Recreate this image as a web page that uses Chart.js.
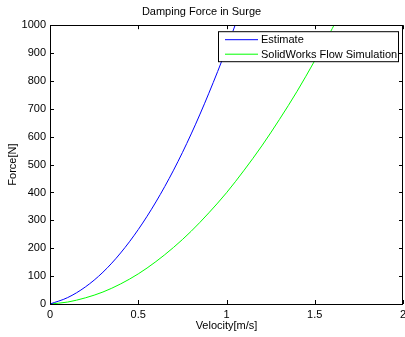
<!DOCTYPE html>
<html>
<head>
<meta charset="utf-8">
<script src="https://cdn.jsdelivr.net/npm/chart.js@4/dist/chart.umd.min.js"></script>
<style>
  html, body { margin: 0; padding: 0; background: #fff; }
  #wrap { width: 405px; height: 337px; }
</style>
</head>
<body>
<div id="wrap"><canvas id="damping-chart"></canvas></div>
<script>
// velocity samples [m/s]
var velocity = [0, 0.1, 0.2, 0.3, 0.4, 0.5, 0.6, 0.7, 0.8, 0.9, 1.0, 1.1, 1.2, 1.3, 1.4, 1.5, 1.6, 1.7];
// force [N]
var estimateForce = [0, 23, 61, 114, 183, 267, 366, 480, 610, 756, 916, 1092, 1283, 1490, 1711, 1948, 2201, 2468];
var flowSimForce = [0, 7, 22, 43, 72, 108, 152, 203, 261, 327, 399, 480, 567, 662, 763, 873, 989, 1113];
var xTicks = [0, 0.5, 1, 1.5, 2];
var yTicks = [0, 100, 200, 300, 400, 500, 600, 700, 800, 900, 1000];
var seriesNames = ["Estimate", "SolidWorks Flow Simulation"];
var seriesColors = ["#0000ff", "#00ff00"];

function toPoints(ys) {
  return velocity.map(function (v, i) { return { x: v, y: ys[i] }; });
}

var fontFam = "'Liberation Sans', Arial, sans-serif";

// MATLAB style box: frame + inward ticks on all four sides
var boxPlugin = {
  id: "matlabBox",
  afterDraw: function (chart) {
    var ctx = chart.ctx, a = chart.chartArea;
    var xs = chart.scales.x, ys = chart.scales.y;
    ctx.save();
    ctx.strokeStyle = "#000";
    ctx.lineWidth = 1;
    ctx.beginPath();
    xTicks.forEach(function (t) {
      var px = Math.round(xs.getPixelForValue(t)) + 0.5;
      ctx.moveTo(px, a.bottom); ctx.lineTo(px, a.bottom - 4);
      ctx.moveTo(px, a.top); ctx.lineTo(px, a.top + 4);
    });
    yTicks.forEach(function (t) {
      var py = Math.round(ys.getPixelForValue(t)) + 0.5;
      ctx.moveTo(a.left, py); ctx.lineTo(a.left + 4, py);
      ctx.moveTo(a.right, py); ctx.lineTo(a.right - 4, py);
    });
    ctx.stroke();
    ctx.strokeRect(Math.round(a.left) + 0.5, Math.round(a.top) + 0.5,
      Math.round(a.right - a.left) - 1, Math.round(a.bottom - a.top));

    // legend box inside the axes, top right
    var lx = a.right - 185, ly = a.top + 6, lw = 180, lh = 30;
    ctx.fillStyle = "#fff";
    ctx.fillRect(lx, ly, lw, lh);
    ctx.strokeRect(lx + 0.5, ly + 0.5, lw, lh);
    ctx.font = "11px " + fontFam;
    ctx.textBaseline = "middle";
    seriesNames.forEach(function (name, i) {
      var yy = ly + 8 + i * 14.5;
      ctx.strokeStyle = seriesColors[i];
      ctx.beginPath();
      ctx.moveTo(lx + 7, yy + 0.5); ctx.lineTo(lx + 40, yy + 0.5);
      ctx.stroke();
      ctx.fillStyle = "#000";
      ctx.fillText(name, lx + 43, yy + 1);
    });
    ctx.restore();
  }
};

new Chart("damping-chart", {
  type: "line",
  data: {
    datasets: [
      {
        label: seriesNames[0],
        data: toPoints(estimateForce),
        borderColor: seriesColors[0],
        borderWidth: 1,
        pointRadius: 0,
        cubicInterpolationMode: "monotone",
      },
      {
        label: seriesNames[1],
        data: toPoints(flowSimForce),
        borderColor: seriesColors[1],
        borderWidth: 1,
        pointRadius: 0,
        cubicInterpolationMode: "monotone",
      },
    ],
  },
  options: {
    responsive: true,
    maintainAspectRatio: false,
    animation: false,
    layout: { padding: { left: 0, right: 2, top: 0, bottom: 0 } },
    plugins: {
      legend: { display: false },
      tooltip: { enabled: false },
      title: {
        display: true,
        text: "Damping Force in Surge",
        color: "#000",
        font: { family: fontFam, size: 11, weight: "normal" },
        padding: { top: 5, bottom: 7 },
      },
    },
    scales: {
      x: {
        type: "linear",
        min: 0,
        max: 2,
        grid: { display: false, drawTicks: false },
        border: { display: false },
        afterBuildTicks: function (s) { s.ticks = xTicks.map(function (v) { return { value: v }; }); },
        ticks: {
          color: "#000",
          padding: 4,
          maxRotation: 0,
          font: { family: fontFam, size: 11 },
          callback: function (v) { return String(v); },
        },
        title: {
          display: true,
          text: "Velocity[m/s]",
          color: "#000",
          padding: { top: 0, bottom: 4 },
          font: { family: fontFam, size: 11 },
        },
        afterFit: function (s) { s.height = 33; s.paddingLeft = 0; s.paddingRight = 0; },
      },
      y: {
        min: 0,
        max: 1000,
        grid: { display: false, drawTicks: false },
        border: { display: false },
        afterBuildTicks: function (s) { s.ticks = yTicks.map(function (v) { return { value: v }; }); },
        ticks: {
          color: "#000",
          padding: 4,
          font: { family: fontFam, size: 11 },
          callback: function (v) { return String(v); },
        },
        title: {
          display: true,
          text: "Force[N]",
          color: "#000",
          padding: { top: 6, bottom: 0 },
          font: { family: fontFam, size: 11 },
        },
        afterFit: function (s) { s.width = 50; s.paddingTop = 0; s.paddingBottom = 0; },
      },
    },
  },
  plugins: [boxPlugin],
});
</script>
</body>
</html>
